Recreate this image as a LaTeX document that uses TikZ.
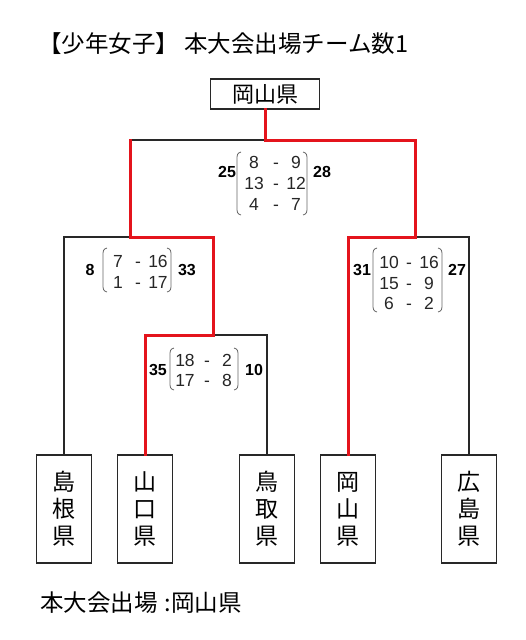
\documentclass[tikz,border=0pt]{standalone}
\usepackage{fontspec}
\setmainfont{Liberation Sans}
\newfontfamily\jp{Noto Sans CJK JP}
\definecolor{winred}{RGB}{228,20,28}
\definecolor{lineblack}{RGB}{40,40,40}
\newcommand\lbrk[3]{\draw[brk] (#1+4,#2) .. controls (#1,#2+1) and (#1,#2+3) .. (#1,#2+8) -- (#1,#3-8) .. controls (#1,#3-3) and (#1,#3-1) .. (#1+4,#3);}
\newcommand\rbrk[3]{\draw[brk] (#1-4,#2) .. controls (#1,#2+1) and (#1,#2+3) .. (#1,#2+8) -- (#1,#3-8) .. controls (#1,#3-3) and (#1,#3-1) .. (#1-4,#3);}
\newcommand\srow[7]{\node[num] (#1a) at (#3,#2) {#6}; \node[num] (#1d) at (#4,#2) {-}; \node[num] (#1b) at (#5,#2) {#7};}
\begin{document}
\begin{tikzpicture}[x=1pt,y=-1pt,
  pref/.style={draw=lineblack, line width=1.8pt, fill=white, inner sep=0pt, align=center},
  vbox/.style={pref, minimum width=55pt, minimum height=108pt, font=\jp\fontsize{23}{27}\selectfont},
  tbox/.style={pref, minimum width=109pt, minimum height=30pt, font=\jp\fontsize{22}{22}\selectfont},
  bline/.style={draw=lineblack, line width=1.6pt, line cap=rect},
  rline/.style={draw=winred, line width=3pt, line cap=rect},
  num/.style={font=\fontsize{17.5}{17.5}\selectfont, inner sep=0pt, text height=12.5pt, text depth=0pt, text=black!85},
  bnum/.style={font=\bfseries\fontsize{16}{16}\selectfont, inner sep=0pt, text height=11.5pt, text depth=0pt, text=black},
  brk/.style={draw=black!60, line width=0.8pt},
  jptext/.style={anchor=west, inner sep=0pt, font=\jp\fontsize{23.5}{23.5}\selectfont}]
\useasboundingbox[fill=white] (0,0) rectangle (526,640);

% title and footer
\node[jptext] (title) at (38,44) {【少年女子】 本大会出場チーム数1};
\node[jptext, font=\jp\fontsize{23.5}{23.5}\selectfont] (foot) at (40,603) {本大会出場\hspace{7pt}:岡山県};

% boxes
\node[tbox] (top) at (265,94) {岡山県};
\node[vbox] (b1) at (64,509) {島\\根\\県};
\node[vbox] (b2) at (145,509) {山\\口\\県};
\node[vbox] (b3) at (267,509) {鳥\\取\\県};
\node[vbox] (b4) at (348,509) {岡\\山\\県};
\node[vbox] (b5) at (469,509) {広\\島\\県};

% junction coordinates
\coordinate (fC) at (265,140);
\coordinate (fL) at (130,140);
\coordinate (fR) at (415,140);
\coordinate (sL) at (130,237);
\coordinate (sLm) at (213,237);
\coordinate (sR) at (415,237);
\coordinate (qR) at (213,335);

% black lines
\draw[bline] (fL) -- (fC);
\draw[bline] (sL) -| (b1.north);
\draw[bline] (qR) -| (b3.north);
\draw[bline] (sR) -| (b5.north);

% red (winner) lines
\draw[rline] (top.south) |- (fR) -- (sR) -| (b4.north);
\draw[rline] (fL) |- (sLm) -- (qR) -| (b2.north);

% final scores
\node[bnum] (f25) at (227,172) {25};
\node[bnum] (f28) at (322,172) {28};
\srow{fa}{162}{254}{276}{296}{8}{9}
\srow{fb}{183}{254}{276}{296}{13}{12}
\srow{fc}{204}{254}{276}{296}{4}{7}
\lbrk{237}{152}{215}
\rbrk{307}{152}{215}

% left semi
\node[bnum] (l8) at (90,270) {8};
\node[bnum] (l33) at (187,270) {33};
\srow{la}{261}{118}{138}{158}{7}{16}
\srow{lb}{282}{118}{138}{158}{1}{17}
\lbrk{103}{248}{292}
\rbrk{171}{248}{292}

% right semi
\node[bnum] (r31) at (362,270) {31};
\node[bnum] (r27) at (457,270) {27};
\srow{ra}{262}{389}{409}{429}{10}{16}
\srow{rb}{283}{389}{409}{429}{15}{9}
\srow{rc}{303}{389}{409}{429}{6}{2}
\lbrk{373}{248}{312}
\rbrk{442}{248}{312}

% quarter
\node[bnum] (q35) at (158,370) {35};
\node[bnum] (q10) at (254,370) {10};
\srow{qa}{360}{185}{207}{227}{18}{2}
\srow{qb}{380}{185}{207}{227}{17}{8}
\lbrk{170}{348}{390}
\rbrk{238}{348}{390}
\end{tikzpicture}
\end{document}
